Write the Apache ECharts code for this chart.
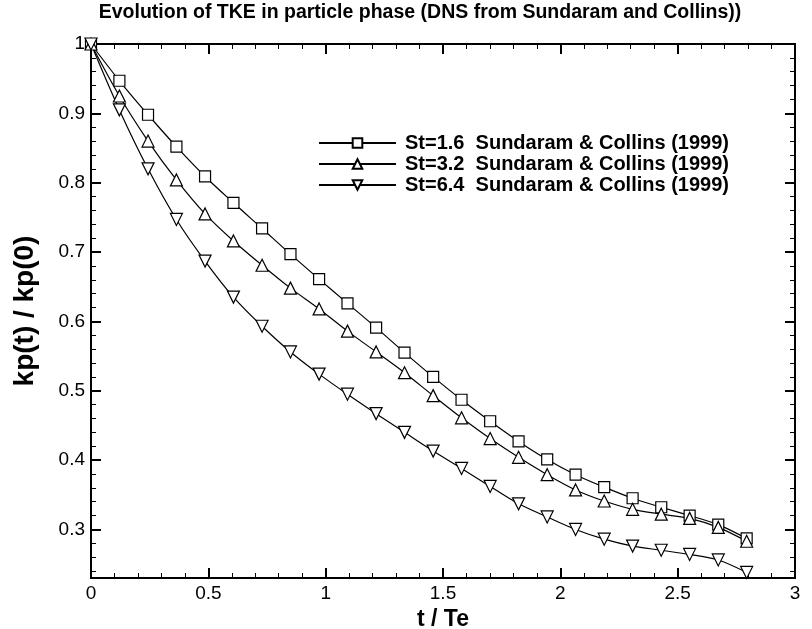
<!DOCTYPE html>
<html><head><meta charset="utf-8">
<script src="https://cdn.jsdelivr.net/npm/echarts@6/dist/echarts.min.js"></script>
<style>html,body{margin:0;padding:0;background:#fff}#c{width:812px;height:629px}</style>
</head><body><div id="c"></div>
<script>
const titleText = 'Evolution of TKE in particle phase (DNS from Sundaram and Collins))';
const xName = 't / Te';
const yName = 'kp(t) / kp(0)';
const seriesNames = ['St=1.6  Sundaram & Collins (1999)', 'St=3.2  Sundaram & Collins (1999)', 'St=6.4  Sundaram & Collins (1999)'];
const tValues = [0, 0.121, 0.243, 0.364, 0.486, 0.607, 0.729, 0.850, 0.972, 1.093, 1.215, 1.336, 1.458, 1.579, 1.701, 1.822, 1.944, 2.065, 2.187, 2.308, 2.430, 2.551, 2.673, 2.794];
const st16 = [1, 0.947, 0.898, 0.852, 0.809, 0.771, 0.734, 0.697, 0.661, 0.626, 0.591, 0.555, 0.520, 0.487, 0.456, 0.427, 0.401, 0.379, 0.361, 0.345, 0.332, 0.320, 0.307, 0.287];
const st32 = [1, 0.925, 0.860, 0.804, 0.755, 0.716, 0.681, 0.648, 0.618, 0.586, 0.556, 0.526, 0.493, 0.461, 0.431, 0.404, 0.379, 0.357, 0.341, 0.329, 0.322, 0.316, 0.303, 0.283];
const st64 = [1, 0.905, 0.820, 0.747, 0.687, 0.635, 0.593, 0.556, 0.524, 0.495, 0.467, 0.440, 0.413, 0.388, 0.362, 0.337, 0.318, 0.300, 0.286, 0.276, 0.270, 0.264, 0.256, 0.238];
const yMajorTicks = [0.3, 0.4, 0.5, 0.6, 0.7, 0.8, 0.9, 1];
const yMinorTicks = [0.24, 0.26, 0.28, 0.32, 0.34, 0.36, 0.38, 0.42, 0.44, 0.46, 0.48, 0.52, 0.54, 0.56, 0.58, 0.62, 0.64, 0.66, 0.68, 0.72, 0.74, 0.76, 0.78, 0.82, 0.84, 0.86, 0.88, 0.92, 0.94, 0.96, 0.98];
const xMin = 0, xMax = 3, xInterval = 0.5;
const yMin = 0.23, yMax = 1;

const FONT = '"Liberation Sans", Arial, Helvetica, sans-serif';
const chart = echarts.init(document.getElementById('c'), null, {renderer: 'canvas'});
const pair = (ys) => tValues.map((t, i) => [t, ys[i]]);

const yAxisBase = (pos, major, showLabel) => ({
  type: 'value', min: yMin, max: yMax, position: pos,
  axisLine: {show: true, onZero: false, lineStyle: {color: '#000', width: 2}},
  axisTick: {show: true, inside: true, length: major ? 10 : 5, lineStyle: {color: '#000', width: major ? 2 : 1},
    customValues: major ? yMajorTicks : yMinorTicks},
  axisLabel: {show: showLabel, customValues: yMajorTicks, color: '#000', fontFamily: FONT, fontSize: 19, margin: 6,
    formatter: v => String(Math.round(v * 10) / 10)},
  splitLine: {show: false}
});
const xAxisBase = (pos, showLabel) => ({
  type: 'value', min: xMin, max: xMax, interval: xInterval, position: pos,
  axisLine: {show: true, onZero: false, lineStyle: {color: '#000', width: 2}},
  axisTick: {show: true, inside: true, length: 10, lineStyle: {color: '#000', width: 2}},
  minorTick: {show: true, splitNumber: 5, length: 5, lineStyle: {color: '#000', width: 1}},
  axisLabel: {show: showLabel, color: '#000', fontFamily: FONT, fontSize: 19, margin: 6},
  splitLine: {show: false}
});

const xBottom = xAxisBase('bottom', true);
xBottom.name = xName; xBottom.nameLocation = 'middle'; xBottom.nameGap = 22;
xBottom.nameTextStyle = {color: '#000', fontFamily: FONT, fontSize: 23, fontWeight: 'bold'};
const yLeft = yAxisBase('left', true, true);
yLeft.name = yName; yLeft.nameLocation = 'middle'; yLeft.nameGap = 52;
yLeft.nameTextStyle = {color: '#000', fontFamily: FONT, fontSize: 28, fontWeight: 'bold'};

const mkSeries = (name, data, symbol, rotate, size) => ({
  name, type: 'line', data: pair(data), xAxisIndex: 0, yAxisIndex: 0,
  smooth: 0.3, symbol, symbolSize: size, symbolRotate: rotate,
  lineStyle: {color: '#000', width: 1.2},
  itemStyle: {color: '#fff', borderColor: '#000', borderWidth: 1.2},
  emphasis: {disabled: true}, z: 3
});

chart.setOption({
  animation: false,
  backgroundColor: '#fff',
  title: {text: titleText, left: 420, top: 3, padding: 0, textAlign: 'center',
    textStyle: {color: '#000', fontFamily: FONT, fontSize: 19.5, fontWeight: 'bold'}},
  grid: {left: 91, right: 17, top: 44, bottom: 51, containLabel: false, outerBoundsMode: 'none'},
  xAxis: [xBottom, xAxisBase('top', false)],
  yAxis: [yLeft, yAxisBase('right', true, false), yAxisBase('left', false, false), yAxisBase('right', false, false)],
  legend: {
    orient: 'vertical', left: 318, top: 133, padding: 0, itemGap: 1, itemWidth: 77, itemHeight: 12,
    data: seriesNames,
    textStyle: {color: '#000', fontFamily: FONT, fontSize: 20, lineHeight: 20, fontWeight: 'bold', padding: [0, 0, 0, 4]}
  },
  series: [
    mkSeries(seriesNames[0], st16, 'rect', 0, 11),
    mkSeries(seriesNames[1], st32, 'triangle', 0, 12),
    mkSeries(seriesNames[2], st64, 'triangle', 180, 12)
  ]
});
</script></body></html>
